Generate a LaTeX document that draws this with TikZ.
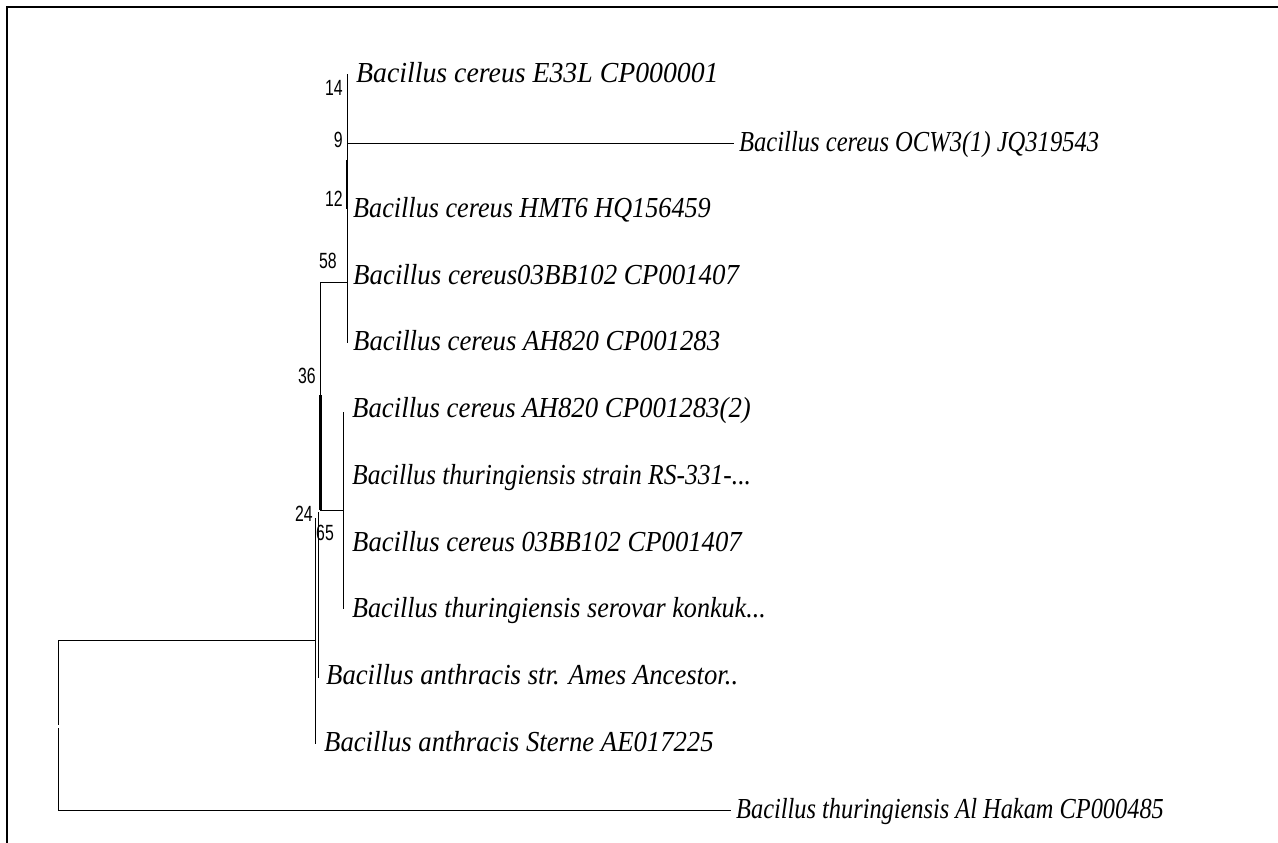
\documentclass[tikz,border=0pt]{standalone}
\usepackage{graphicx}
\usepackage{fontspec}
\setmainfont{Liberation Serif}
\newfontfamily\leaffont{Liberation Serif}
\newfontfamily\numfont[FakeStretch=0.72]{Liberation Sans}
\newcommand{\lw}[2]{\scalebox{#1}[1]{#2}}
\tikzset{
  leaf/.style={anchor=base west, inner sep=0pt, font=\leaffont\itshape\fontsize{29}{29}\selectfont},
  boot/.style={inner sep=0pt, font=\numfont\fontsize{22}{22}\selectfont},
  branch/.style={line width=1pt, line cap=rect},
  heavy/.style={line width=2.6pt},
  frame/.style={line width=2pt}
}
\begin{document}
\begin{tikzpicture}[x=1pt,y=-1pt]
\useasboundingbox (0,0) rectangle (1278,843);
% frame
\coordinate (fa) at (6.5,843);
\coordinate (fb) at (6.5,7);
\coordinate (fc) at (1278,7);
\draw[frame] (fa) -- (fb) -- (fc);

% inner node coordinates
\coordinate (e1) at (347,75);
\coordinate (e2) at (347,143);
\coordinate (e3) at (347,209);
\coordinate (e4) at (347,282);
\coordinate (e5) at (347,342);
\coordinate (eh1) at (347,160);
\coordinate (d1) at (320.5,282);
\coordinate (d2) at (320.5,510);
\coordinate (dh) at (320.5,395);
\coordinate (f1) at (343.5,412);
\coordinate (f0) at (343.5,510);
\coordinate (f2) at (343.5,608);
\coordinate (c1) at (318.5,512);
\coordinate (c2) at (318.5,677);
\coordinate (b1) at (315.5,518);
\coordinate (b0) at (315.5,640);
\coordinate (b2) at (315.5,743);
\coordinate (r1) at (58,640);
\coordinate (rg1) at (58,724);
\coordinate (rg2) at (58,728);
\coordinate (r2) at (58,810);
\coordinate (t2) at (733,143);
\coordinate (t12) at (730,810);

% branches
\draw[branch] (e1) -- (e5);
\draw[heavy] (eh1) -- (e3);
\draw[branch] (e2) -- (t2);
\draw[branch] (d1) -- (e4);
\draw[branch] (d1) -- (d2);
\draw[heavy] (dh) -- (d2);
\draw[branch] (d2) -- (f0);
\draw[branch] (f1) -- (f2);
\draw[branch] (c1) -- (c2);
\draw[branch] (b1) -- (b2);
\draw[branch] (r1) -- (b0);
\draw[branch] (r1) -- (rg1);
\draw[branch] (rg2) -- (r2);
\draw[branch] (r2) -- (t12);

% leaves
\node[leaf] (l1) at (356,83) {\lw{0.958}{Bacillus cereus E33L CP000001}};
\node[leaf] (l2) at (739,151) {\lw{0.847}{Bacillus cereus OCW3(1) JQ319543}};
\node[leaf] (l3) at (353,217) {\lw{0.903}{Bacillus cereus HMT6 HQ156459}};
\node[leaf] (l4) at (353,284) {\lw{0.927}{Bacillus cereus03BB102 CP001407}};
\node[leaf] (l5) at (353,350) {\lw{0.923}{Bacillus cereus AH820 CP001283}};
\node[leaf] (l6) at (352,417) {\lw{0.924}{Bacillus cereus AH820 CP001283(2)}};
\node[leaf] (l7) at (352,484) {\lw{0.881}{Bacillus thuringiensis strain RS-331-...}};
\node[leaf] (l8) at (352,551) {\lw{0.92}{Bacillus cereus 03BB102 CP001407}};
\node[leaf] (l9) at (352,617) {\lw{0.90}{Bacillus thuringiensis serovar konkuk...}};
\node[leaf] (l10) at (326,684) {\lw{0.92}{Bacillus anthracis str. Ames Ancestor..}};
\node[leaf] (l11) at (324,751) {\lw{0.921}{Bacillus anthracis Sterne AE017225}};
\node[leaf] (l12) at (736,818) {\lw{0.84}{Bacillus thuringiensis Al Hakam CP000485}};

% bootstrap values
\node[boot, anchor=east] (s14) at (343,88) {14};
\node[boot, anchor=east] (s9) at (343,140) {9};
\node[boot, anchor=east] (s12) at (343,199) {12};
\node[boot, anchor=east] (s58) at (337,261) {58};
\node[boot, anchor=east] (s36) at (316,376) {36};
\node[boot, anchor=east] (s24) at (313,514) {24};
\node[boot, anchor=west] (s65) at (316,533) {65};
\end{tikzpicture}
\end{document}
